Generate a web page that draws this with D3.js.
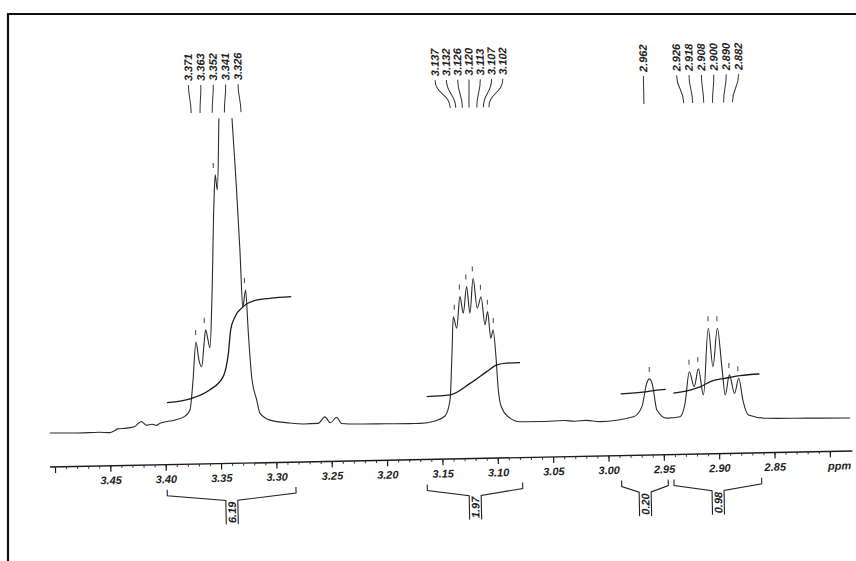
<!DOCTYPE html>
<html>
<head>
<meta charset="utf-8">
<script src="https://cdn.jsdelivr.net/npm/d3@7"></script>
<style>
  body { margin: 0; background: #fff; }
  svg { display: block; }
  text { font-family: "Liberation Sans", Arial, sans-serif; font-weight: bold; font-style: italic; fill: #222; }
</style>
</head>
<body>
<svg id="plot" width="856" height="561"></svg>
<script>
// ppm axis
tickValues = [3.50, 3.45, 3.40, 3.35, 3.30, 3.25, 3.20, 3.15, 3.10, 3.05, 3.00, 2.95, 2.90, 2.85, 2.80];
tickLabels = ["", "3.45", "3.40", "3.35", "3.30", "3.25", "3.20", "3.15", "3.10", "3.05", "3.00", "2.95", "2.90", "2.85", "ppm"];

// traced spectrum [ppm, intensity]
spectrum = [
    [3.5045, -0.3], [3.480, -0.5], [3.460, -0.4], [3.4503, -0.6], [3.446, 0.0], [3.443, 0.6],
    [3.435, 0.8], [3.428, 1.2], [3.4217, 2.9], [3.417, 1.6], [3.412, 1.9], [3.408, 1.5],
    [3.4049, 2.2], [3.3912, 3.2], [3.3821, 4.4], [3.3775, 6.4], [3.3742, 16.3], [3.3708, 29],
    [3.3685, 23], [3.3661, 20.8], [3.3637, 28], [3.3619, 33], [3.3600, 29.7], [3.3584, 27],
    [3.3557, 43], [3.3520, 76], [3.3504, 84.6], [3.3489, 79.6], [3.3461, 103.5], [3.3403, 170],
    [3.3343, 103.5], [3.3318, 82.8], [3.3295, 59.4], [3.3281, 40.3], [3.3250, 46], [3.3234, 31.7],
    [3.3210, 16.3], [3.3171, 9.4], [3.3144, 4.9], [3.3054, 2.5], [3.2875, 1.4], [3.275, 1.0],
    [3.262, 1.1], [3.2557, 3.2], [3.2510, 1.2], [3.2451, 3.0], [3.241, 0.9], [3.225, 0.6],
    [3.200, 0.5], [3.180, 0.4], [3.170, 0.4], [3.1564, 1.1], [3.1473, 2.7], [3.1425, 8],
    [3.1397, 24.6], [3.1380, 35.7], [3.1352, 31.9], [3.1316, 42.4], [3.1290, 36.8], [3.1254, 45.7],
    [3.1230, 36.8], [3.1194, 48.4], [3.1163, 38.4], [3.1125, 42.2], [3.1096, 32.8], [3.1069, 37.2],
    [3.1046, 28.3], [3.1022, 31], [3.1002, 22.1], [3.0987, 11], [3.0963, 5.4], [3.0901, 2],
    [3.0796, 0.3], [3.060, 0.2], [3.040, 0.4], [3.030, 0.1], [3.020, 0.3], [3.0073, -0.2],
    [2.9771, 1.2], [2.9693, 4.5], [2.9645, 12.3], [2.9620, 13.7], [2.9594, 11.7], [2.9559, 3.3],
    [2.9470, 0.5], [2.9350, 0.9], [2.9303, 5.3], [2.9258, 15.8], [2.9218, 10.8], [2.9176, 16.7],
    [2.9136, 8], [2.9079, 30.2], [2.9045, 17.3], [2.8997, 30.1], [2.8964, 17.3], [2.8939, 7.8],
    [2.8897, 14.5], [2.8855, 8.3], [2.8813, 13.3], [2.8780, 6], [2.8733, 1], [2.8567, -0.2],
    [2.830, -0.4], [2.810, -0.5], [2.7815, -0.7]
];

// traced integral curves [ppm, level]
integral1 = [[3.3981, 9], [3.3755, 10.3], [3.3591, 13], [3.3469, 17.3], [3.3418, 25], [3.3393, 32.8],
    [3.3351, 37.2], [3.3275, 40.5], [3.3156, 42.6], [3.3035, 43.1], [3.2840, 43.5]];
integral2 = [[3.1634, 9.3], [3.1424, 9.7], [3.1241, 13.4], [3.1088, 17.2], [3.0996, 19.4],
    [3.0906, 19.9], [3.0786, 20]];
integral3 = [[2.9882, 8.9], [2.9661, 9.4], [2.9571, 9.8], [2.9474, 10.1]];
integral4 = [[2.9407, 8.8], [2.9255, 9.7], [2.9164, 10.7], [2.9055, 12.6], [2.8937, 13.4],
    [2.8800, 14.2], [2.8626, 14.6]];

// picked peaks, label and height (null = off scale)
peakGroup1 = [3.371, 3.363, 3.352, 3.341, 3.326];
peakHeight1 = [29, 33, 84.6, null, 46];
peakGroup2 = [3.137, 3.132, 3.126, 3.120, 3.113, 3.107, 3.102];
peakHeight2 = [35.7, 42.4, 45.7, 48.4, 42.2, 37.2, 31];
peakGroup3 = [2.962];
peakHeight3 = [13.7];
peakGroup4 = [2.926, 2.918, 2.908, 2.900, 2.890, 2.882];
peakHeight4 = [15.8, 16.7, 30.2, 30.1, 14.5, 13.3];

// integral regions and values
integralFrom = [3.3995, 3.1646, 2.989, 2.9417];
integralTo = [3.2832, 3.0784, 2.9469, 2.8625];
integralValues = ["6.19", "1.97", "0.20", "0.98"];

const axisY = 459;
const labelBase = 76;
const leaderTop = 80, leaderBottom = 108;

function makeChart() {
    const svg = d3.select("#plot");

    // scan frame
    svg.append("path")
        .attr("d", "M8,561 V14 H856")
        .attr("fill", "none")
        .attr("stroke", "#111")
        .attr("stroke-width", 2.2);

    const x = d3.scaleLinear().domain([3.50, 2.80]).range([55, 830]);
    const y = d3.scaleLinear().domain([0, 100]).range([424, 124]);

    // the scanned page is slightly tilted
    const g = svg.append("g").attr("transform", "rotate(-1.15, 450, 440)");

    g.append("clipPath").attr("id", "clip")
        .append("rect").attr("x", 0).attr("y", 114).attr("width", 900).attr("height", 400);

    const line = d3.line()
        .x(d => x(d[0]))
        .y(d => y(d[1]))
        .curve(d3.curveMonotoneX);

    g.append("path")
        .datum(spectrum)
        .attr("clip-path", "url(#clip)")
        .attr("fill", "none")
        .attr("stroke", "#2a2a2a")
        .attr("stroke-width", 1.1)
        .attr("d", line);

    g.append("g")
        .selectAll("path")
        .data([integral1, integral2, integral3, integral4])
        .join("path")
        .attr("fill", "none")
        .attr("stroke", "#1a1a1a")
        .attr("stroke-width", 1.3)
        .attr("d", line);

    // axis
    const axis = g.append("g").attr("transform", `translate(0,${axisY})`);
    axis.append("line")
        .attr("x1", x(3.505)).attr("x2", x(2.78))
        .attr("stroke", "#1a1a1a").attr("stroke-width", 1.4);
    axis.selectAll(".minor")
        .data(d3.range(0, 71).map(i => 3.50 - i * 0.01))
        .join("line")
        .attr("x1", d => x(d)).attr("x2", d => x(d))
        .attr("y1", 0).attr("y2", 2.5)
        .attr("stroke", "#333").attr("stroke-width", 1);
    axis.selectAll(".major")
        .data(tickValues)
        .join("line")
        .attr("x1", d => x(d)).attr("x2", d => x(d))
        .attr("y1", 0).attr("y2", 6)
        .attr("stroke", "#1a1a1a").attr("stroke-width", 1.2);
    axis.selectAll("text")
        .data(tickValues)
        .join("text")
        .attr("x", (d, i) => x(d) + (tickLabels[i] == "ppm" ? 9 : 0))
        .attr("y", 14.5)
        .attr("dy", "0.35em")
        .attr("text-anchor", "middle")
        .attr("font-size", 11)
        .text((d, i) => tickLabels[i]);

    // peak labels with leader lines
    const groups = [
        [peakGroup1, peakHeight1], [peakGroup2, peakHeight2],
        [peakGroup3, peakHeight3], [peakGroup4, peakHeight4]
    ];
    const link = d3.linkVertical();
    groups.forEach(([ppms, heights]) => {
        const n = ppms.length;
        const gap = n > 6 ? 11.3 : 12.4;
        const centre = d3.mean(ppms, p => x(p));
        const lx = (i) => centre + (i - (n - 1) / 2) * gap;
        const pg = g.append("g");
        pg.selectAll("text")
            .data(ppms)
            .join("text")
            .attr("transform", (d, i) => `translate(${lx(i)},${labelBase}) rotate(-90)`)
            .attr("dy", "0.36em")
            .attr("font-size", 11)
            .text(d => d.toFixed(3));
        pg.selectAll("path")
            .data(ppms)
            .join("path")
            .attr("fill", "none")
            .attr("stroke", "#333")
            .attr("stroke-width", 1)
            .attr("d", (d, i) => link({source: [lx(i), leaderTop], target: [x(d), leaderBottom]}));
        pg.selectAll("line")
            .data(ppms.map((p, i) => [p, heights[i]]).filter(d => d[1] != null))
            .join("line")
            .attr("x1", d => x(d[0])).attr("x2", d => x(d[0]))
            .attr("y1", d => y(d[1]) - 12).attr("y2", d => y(d[1]) - 7)
            .attr("stroke", "#444").attr("stroke-width", 1);
    });

    // integral brackets
    const br = g.append("g");
    integralValues.forEach((v, i) => {
        const x0 = x(integralFrom[i]), x1 = x(integralTo[i]);
        const cx = (x0 + x1) / 2;
        br.append("path")
            .attr("fill", "none")
            .attr("stroke", "#222")
            .attr("stroke-width", 1.1)
            .attr("d", `M${x0},484 V490 L${cx - 6},496 V520 M${cx + 6},520 V496 L${x1},490 V484`);
        br.append("text")
            .attr("transform", `translate(${cx},508) rotate(-90)`)
            .attr("text-anchor", "middle")
            .attr("dy", "0.36em")
            .attr("font-size", 11)
            .text(v);
    });
}

makeChart();
</script>
</body>
</html>
